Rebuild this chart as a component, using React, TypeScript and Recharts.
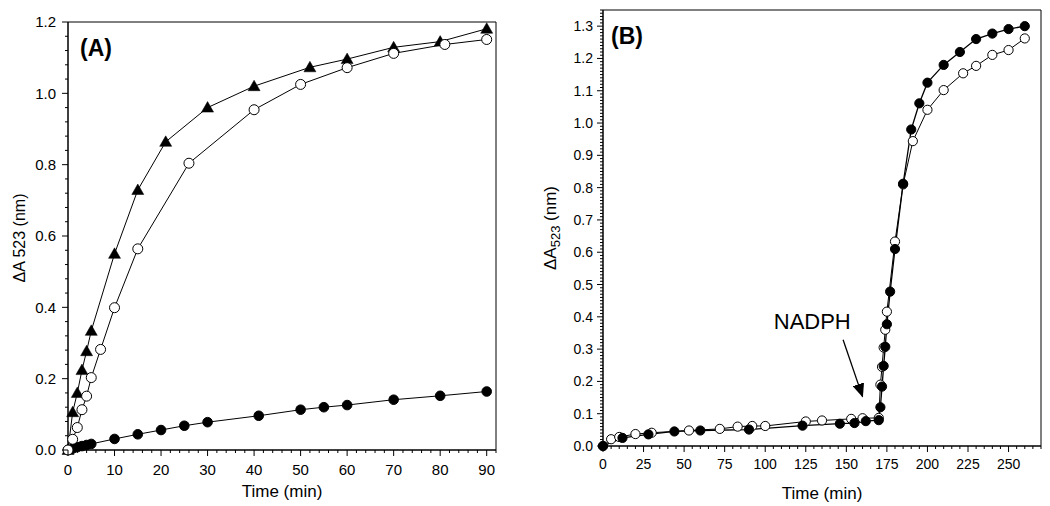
import { LineChart, Line, XAxis, YAxis, ReferenceArea, ReferenceLine, ReferenceDot, Label } from 'recharts';

// Panel A: ΔA523 vs time (min)
const timeTriA = [0, 1, 2, 3, 4, 5, 10, 15, 21, 30, 40, 52, 60, 70, 80, 90];
const valTriA = [0, 0.106, 0.16, 0.224, 0.277, 0.334, 0.55, 0.729, 0.864, 0.96, 1.02, 1.073, 1.096, 1.129, 1.145, 1.181];

const timeOpenA = [0, 1, 2, 3, 4, 5, 7, 10, 15, 26, 40, 50, 60, 70, 81, 90];
const valOpenA = [0, 0.03, 0.063, 0.113, 0.151, 0.203, 0.282, 0.399, 0.564, 0.804, 0.954, 1.025, 1.072, 1.112, 1.137, 1.151];

const timeFilledA = [0, 1, 2, 3, 4, 5, 10, 15, 20, 25, 30, 41, 50, 55, 60, 70, 80, 90];
const valFilledA = [0, 0.004, 0.008, 0.011, 0.014, 0.017, 0.031, 0.044, 0.056, 0.068, 0.078, 0.096, 0.113, 0.12, 0.126, 0.141, 0.152, 0.164];

// Panel B
const timeOpenB = [0, 5, 10, 20, 30, 53, 72, 83, 92, 100, 125, 135, 153, 160, 170, 171, 172, 173, 174, 175, 180, 185, 191, 200, 210, 222, 230, 240, 250, 260];
const valOpenB = [0, 0.021, 0.028, 0.037, 0.041, 0.048, 0.053, 0.06, 0.062, 0.062, 0.076, 0.079, 0.084, 0.086, 0.087, 0.19, 0.245, 0.305, 0.36, 0.416, 0.633, 0.81, 0.944, 1.041, 1.102, 1.154, 1.177, 1.211, 1.226, 1.262];

const timeFilledB = [0, 12, 28, 44, 60, 90, 123, 146, 155, 162, 170, 171, 172, 173, 174, 175, 177, 180, 185, 190, 195, 200, 210, 220, 230, 240, 250, 260];
const valFilledB = [0, 0.025, 0.036, 0.045, 0.048, 0.051, 0.063, 0.069, 0.071, 0.077, 0.08, 0.12, 0.184, 0.248, 0.307, 0.377, 0.478, 0.61, 0.812, 0.98, 1.061, 1.125, 1.18, 1.22, 1.26, 1.277, 1.291, 1.3];

const toPoints = (t: number[], v: number[]) => t.map((x, i) => ({ t: x, v: v[i] }));

const makeTicks = (max: number, step: number) => {
    const out: number[] = [];
    for (let i = 0; i * step <= max + 1e-9; i++) out.push(+(i * step).toFixed(4));
    return out;
};
const isMajor = (v: number, step: number) => Math.abs(v / step - Math.round(v / step)) < 1e-6;

const FONT = '"Liberation Sans", Arial, Helvetica, sans-serif';

const XTick = (props: any, major: number, fontSize: number, gap: number, fmt: (v: number) => string) => {
    const { x, y, payload } = props;
    const big = isMajor(payload.value, major);
    return (
        <g key={`xt-${payload.value}`}>
            <line x1={x} x2={x} y1={y} y2={y + (big ? 6 : 3)} stroke="#000" strokeWidth={1} />
            {big && (
                <text x={x} y={y + gap} textAnchor="middle" fontSize={fontSize} fontFamily={FONT} fill="#000">
                    {fmt(payload.value)}
                </text>
            )}
        </g>
    );
};

const YTick = (props: any, major: number, fontSize: number, gap: number, fmt: (v: number) => string) => {
    const { x, y, payload } = props;
    const big = isMajor(payload.value, major);
    return (
        <g key={`yt-${payload.value}`}>
            <line x1={x} x2={x - (big ? 6 : 3)} y1={y} y2={y} stroke="#000" strokeWidth={1} />
            {big && (
                <text x={x - gap} y={y} dy="0.36em" textAnchor="end" fontSize={fontSize} fontFamily={FONT} fill="#000">
                    {fmt(payload.value)}
                </text>
            )}
        </g>
    );
};

const Triangle = (p: any) => {
    const { cx, cy, index } = p;
    return (
        <polygon
            key={`tri-${index}`}
            points={`${cx},${cy - 6} ${cx - 6},${cy + 4.5} ${cx + 6},${cy + 4.5}`}
            fill="#000"
            stroke="#000"
            strokeWidth={0.5}
        />
    );
};

export default function App() {
    const xTicksA = makeTicks(92, 2);
    const yTicksA = makeTicks(1.2, 0.04);
    const xTicksB = makeTicks(270, 5);
    const yTicksB = makeTicks(1.35, 0.01);

    return (
        <div style={{ position: 'absolute', left: 0, top: 0, width: 1050, height: 506, background: '#fff', fontFamily: FONT }}>
            <div style={{ position: 'absolute', left: 0, top: 0 }}>
                <LineChart width={520} height={506} margin={{ top: 22, right: 24, bottom: 0, left: 0 }}>
                    <XAxis
                        dataKey="t"
                        type="number"
                        domain={[0, 92]}
                        ticks={xTicksA}
                        interval={0}
                        height={56}
                        tickSize={0}
                        tickMargin={0}
                        tickLine={false}
                        axisLine={{ stroke: '#000' }}
                        tick={(p: any) => XTick(p, 10, 15, 25, (v) => String(v))}
                    >
                        <Label
                            content={() => (
                                <text x={282} y={497} textAnchor="middle" fontSize={17} fontFamily={FONT} fill="#000">
                                    Time (min)
                                </text>
                            )}
                        />
                    </XAxis>
                    <YAxis
                        type="number"
                        domain={[0, 1.2]}
                        ticks={yTicksA}
                        interval={0}
                        width={68}
                        tickSize={0}
                        tickMargin={0}
                        tickLine={false}
                        axisLine={{ stroke: '#000' }}
                        tick={(p: any) => YTick(p, 0.2, 15, 12, (v) => v.toFixed(1))}
                    >
                        <Label
                            content={() => (
                                <text
                                    transform="translate(25, 238) rotate(-90)"
                                    textAnchor="middle"
                                    fontSize={16}
                                    fontFamily={FONT}
                                    fill="#000"
                                >
                                    ΔA 523 (nm)
                                </text>
                            )}
                        />
                    </YAxis>
                    <ReferenceArea x1={0} x2={92} y1={0} y2={1.2} fill="none" stroke="#000" strokeWidth={1} />
                    <Line
                        data={toPoints(timeFilledA, valFilledA)}
                        dataKey="v"
                        stroke="#000"
                        strokeWidth={1}
                        dot={{ r: 4.8, fill: '#000', stroke: '#000', strokeWidth: 1 }}
                        activeDot={false}
                        isAnimationActive={false}
                    />
                    <Line
                        data={toPoints(timeTriA, valTriA)}
                        dataKey="v"
                        stroke="#000"
                        strokeWidth={1}
                        dot={Triangle}
                        activeDot={false}
                        isAnimationActive={false}
                    />
                    <Line
                        data={toPoints(timeOpenA, valOpenA)}
                        dataKey="v"
                        stroke="#000"
                        strokeWidth={1}
                        dot={{ r: 5, fill: '#fff', stroke: '#000', strokeWidth: 1 }}
                        activeDot={false}
                        isAnimationActive={false}
                    />
                    <text x={80} y={56} fontSize={23} fontWeight="bold" fontFamily={FONT} fill="#000">
                        (A)
                    </text>
                </LineChart>
            </div>

            <div style={{ position: 'absolute', left: 530, top: 0 }}>
                <LineChart width={520} height={506} margin={{ top: 10, right: 9, bottom: 0, left: 0 }}>
                    <defs>
                        <marker id="arrowHead" markerUnits="userSpaceOnUse" markerWidth={14} markerHeight={12} refX={13} refY={6} orient="auto">
                            <path d="M0,0 L14,6 L0,12 z" fill="#000" />
                        </marker>
                    </defs>
                    <XAxis
                        dataKey="t"
                        type="number"
                        domain={[0, 270]}
                        ticks={xTicksB}
                        interval={0}
                        height={60}
                        tickSize={0}
                        tickMargin={0}
                        tickLine={false}
                        axisLine={{ stroke: '#000' }}
                        tick={(p: any) => XTick(p, 25, 14, 23, (v) => String(v))}
                    >
                        <Label
                            content={() => (
                                <text x={292} y={499} textAnchor="middle" fontSize={17} fontFamily={FONT} fill="#000">
                                    Time (min)
                                </text>
                            )}
                        />
                    </XAxis>
                    <YAxis
                        type="number"
                        domain={[0, 1.35]}
                        ticks={yTicksB}
                        interval={0}
                        width={73}
                        tickSize={0}
                        tickMargin={0}
                        tickLine={false}
                        axisLine={{ stroke: '#000' }}
                        tick={(p: any) => YTick(p, 0.1, 14, 10, (v) => v.toFixed(1))}
                    >
                        <Label
                            content={() => (
                                <text
                                    transform="translate(26, 228) rotate(-90)"
                                    textAnchor="middle"
                                    fontSize={17}
                                    fontFamily={FONT}
                                    fill="#000"
                                >
                                    ΔA
                                    <tspan fontSize={13} dy={4}>523</tspan>
                                    <tspan dy={-4}> (nm)</tspan>
                                </text>
                            )}
                        />
                    </YAxis>
                    <ReferenceArea x1={0} x2={270} y1={0} y2={1.35} fill="none" stroke="#000" strokeWidth={1} />
                    <ReferenceLine
                        segment={[{ x: 148, y: 0.329 }, { x: 160, y: 0.153 }]}
                        stroke="#000"
                        strokeWidth={1.3}
                        markerEnd="url(#arrowHead)"
                    />
                    <ReferenceDot
                        x={129}
                        y={0.388}
                        r={0}
                        fill="none"
                        stroke="none"
                        label={{ value: 'NADPH', position: 'center', fontSize: 22, fill: '#000', fontFamily: FONT }}
                    />
                    <Line
                        data={toPoints(timeOpenB, valOpenB)}
                        dataKey="v"
                        stroke="#000"
                        strokeWidth={1}
                        dot={{ r: 4.6, fill: '#fff', stroke: '#000', strokeWidth: 1 }}
                        activeDot={false}
                        isAnimationActive={false}
                    />
                    <Line
                        data={toPoints(timeFilledB, valFilledB)}
                        dataKey="v"
                        stroke="#000"
                        strokeWidth={1.3}
                        dot={{ r: 4.6, fill: '#000', stroke: '#000', strokeWidth: 1 }}
                        activeDot={false}
                        isAnimationActive={false}
                    />
                    <text x={81} y={44} fontSize={23} fontWeight="bold" fontFamily={FONT} fill="#000">
                        (B)
                    </text>
                </LineChart>
            </div>
        </div>
    );
}
